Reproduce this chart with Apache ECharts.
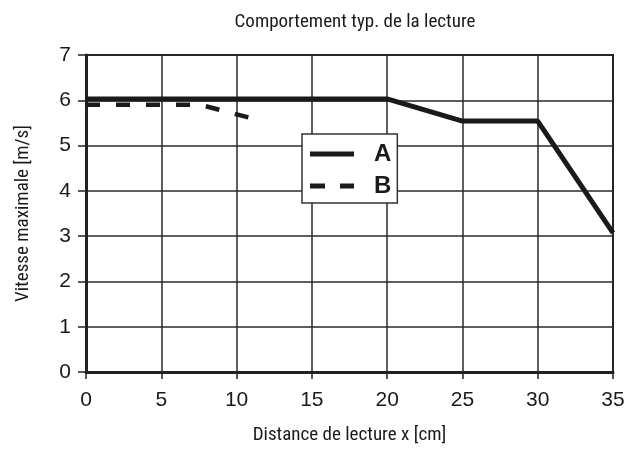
<!DOCTYPE html>
<html><head><meta charset="utf-8">
<script src="https://cdn.jsdelivr.net/npm/echarts@6/dist/echarts.min.js"></script>
<style>html,body{margin:0;padding:0;background:#fff}#c{width:637px;height:450px}</style>
</head><body><div id="c"></div>
<script>
const seriesNames = ['A', 'B'];
const seriesA = [[0, 6.03], [20, 6.03], [25, 5.54], [30, 5.54], [35, 3.07]];
const seriesB = [[0, 5.9], [7.6, 5.9], [10.8, 5.62]];
const xTicks = [0, 5, 10, 15, 20, 25, 30, 35];
const yTicks = [0, 1, 2, 3, 4, 5, 6, 7];
const title = 'Comportement typ. de la lecture';
const xTitle = 'Distance de lecture x [cm]';
const yTitle = 'Vitesse maximale [m/s]';

const chart = echarts.init(document.getElementById('c'), null, {renderer: 'canvas'});
const narrow = '"Liberation Sans Narrow", "Roboto Condensed", Arial, sans-serif';
const sans = 'Arial, "Liberation Sans", sans-serif';
chart.setOption({
  animation: false,
  title: {text: title, left: 350, textAlign: 'center', top: 8,
    textStyle: {fontFamily: narrow, fontSize: 19, fontWeight: 'normal', color: '#1a1a1a'}},
  grid: {left: 86, right: 24, top: 55, bottom: 75, show: true, borderColor: '#222', borderWidth: 2},
  legend: {
    data: [
      {name: seriesNames[0], icon: 'path://M0,0H44V5H0Z'},
      {name: seriesNames[1], icon: 'path://M0,0H15V5H0Z M30,0H44V5H30Z'}
    ],
    orient: 'vertical', left: 302, top: 134,
    backgroundColor: '#fff', borderColor: '#333', borderWidth: 1.5,
    padding: [8, 6, 5, 8], itemWidth: 44, itemHeight: 5, itemGap: 8,
    itemStyle: {color: '#1a1a1a', borderWidth: 0},
    textStyle: {fontFamily: sans, fontSize: 24, lineHeight: 24, fontWeight: 'bold', color: '#1a1a1a', padding: [0, 0, 0, 15]}
  },
  xAxis: {
    type: 'value', min: 0, max: 35, interval: 5,
    name: xTitle, nameLocation: 'middle', nameGap: 54,
    nameTextStyle: {fontFamily: narrow, fontSize: 19, color: '#1a1a1a'},
    axisLine: {show: true, onZero: false, lineStyle: {color: '#222', width: 3}},
    axisTick: {show: true, length: 7, lineStyle: {color: '#222', width: 1.5}},
    axisLabel: {fontFamily: sans, fontSize: 21, color: '#1a1a1a', margin: 18,
      formatter: v => xTicks.includes(v) ? String(v) : ''},
    splitLine: {show: true, lineStyle: {color: '#2a2a2a', width: 1.5}}
  },
  yAxis: {
    type: 'value', min: 0, max: 7, interval: 1,
    name: yTitle, nameLocation: 'middle', nameGap: 53, nameRotate: 90,
    nameTextStyle: {fontFamily: narrow, fontSize: 19, color: '#1a1a1a'},
    axisLine: {show: true, lineStyle: {color: '#222', width: 3}},
    axisTick: {show: true, length: 8, lineStyle: {color: '#222', width: 1.5}},
    axisLabel: {fontFamily: sans, fontSize: 21, color: '#1a1a1a', margin: 15,
      formatter: v => yTicks.includes(v) ? String(v) : ''},
    splitLine: {show: true, lineStyle: {color: '#2a2a2a', width: 1.5}}
  },
  series: [
    {name: seriesNames[0], type: 'line', data: seriesA, symbol: 'none', z: 3,
      lineStyle: {color: '#1a1a1a', width: 5}, itemStyle: {color: '#1a1a1a'}},
    {name: seriesNames[1], type: 'line', data: seriesB, symbol: 'none', z: 3,
      lineStyle: {color: '#1a1a1a', width: 4.5, type: [14, 16]}, itemStyle: {color: '#1a1a1a'}}
  ]
});
</script></body></html>
